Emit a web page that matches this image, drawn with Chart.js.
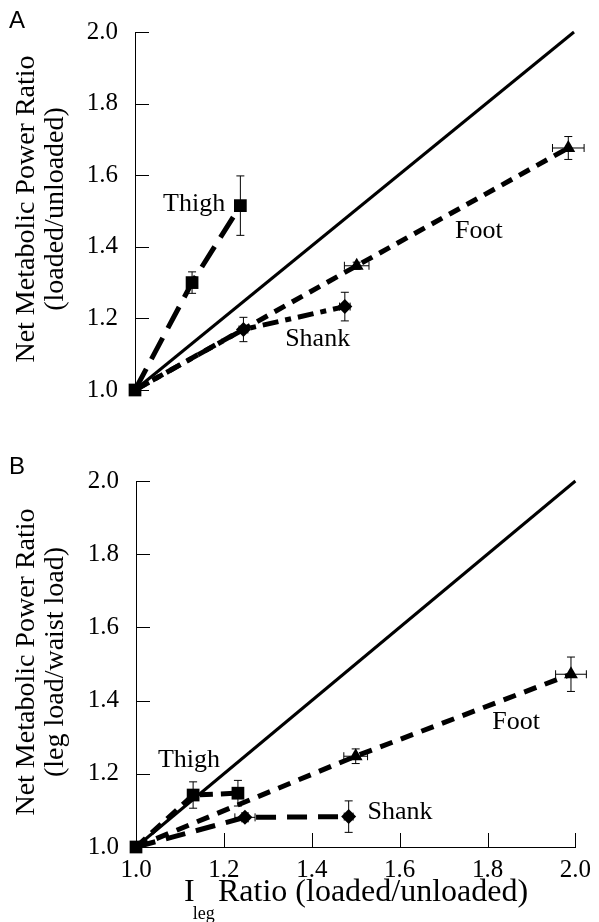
<!DOCTYPE html>
<html>
<head>
<meta charset="utf-8">
<script src="https://cdn.jsdelivr.net/npm/chart.js@4.4.0/dist/chart.umd.min.js"></script>
<style>
  body { margin: 0; background: #fff; }
  #wrap { position: relative; width: 599px; height: 922px; }
  canvas { position: absolute; left: 0; }
  #chartA { top: 0; }
  #chartB { top: 430px; }
</style>
</head>
<body>
<div id="wrap">
  <canvas id="chartA" width="599" height="430"></canvas>
  <canvas id="chartB" width="599" height="492"></canvas>
</div>
<script>
// ticks on both axes
const tickValues = [1.0, 1.2, 1.4, 1.6, 1.8, 2.0];
// line of identity
const identityX = [1.0, 2.0];
const identityY = [1.0, 2.0];

// A: loaded / unloaded
const thighAX = [1.0, 1.13, 1.24];
const thighAY = [1.0, 1.30, 1.515];
const thighAXErr = [0, 0, 0];
const thighAYErr = [0, 0.03, 0.083];

const shankAX = [1.0, 1.247, 1.478];
const shankAY = [1.0, 1.169, 1.233];
const shankAXErr = [0, 0.01, 0.012];
const shankAYErr = [0, 0.034, 0.04];

const footAX = [1.0, 1.505, 1.987];
const footAY = [1.0, 1.347, 1.676];
const footAXErr = [0, 0.028, 0.036];
const footAYErr = [0, 0.01, 0.032];

// B: leg load / waist load
const thighBX = [1.0, 1.13, 1.232];
const thighBY = [1.0, 1.142, 1.147];
const thighBXErr = [0, 0, 0.01];
const thighBYErr = [0, 0.036, 0.035];

const shankBX = [1.0, 1.248, 1.484];
const shankBY = [1.0, 1.081, 1.083];
const shankBXErr = [0, 0.023, 0.01];
const shankBYErr = [0, 0.012, 0.043];

const footBX = [1.0, 1.50, 1.99];
const footBY = [1.0, 1.248, 1.472];
const footBXErr = [0, 0.027, 0.035];
const footBYErr = [0, 0.02, 0.047];

const SERIF = '"Liberation Serif", "Times New Roman", serif';

function series(xs, ys, xErr, yErr, style, radius, dash, showFirst) {
    return {
        data: xs.map((x, i) => ({ x: x, y: ys[i], xErr: xErr[i], yErr: yErr[i] })),
        showLine: true,
        borderColor: '#000',
        backgroundColor: '#000',
        borderWidth: 5,
        borderDash: dash,
        borderCapStyle: 'butt',
        pointStyle: style,
        pointRadius: xs.map((x, i) => (i === 0 && !showFirst) ? 0 : radius),
        pointBorderWidth: 0,
        clip: false
    };
}

function identity() {
    return {
        data: identityX.map((x, i) => ({ x: x, y: identityY[i] })),
        showLine: true,
        borderColor: '#000',
        borderWidth: 3,
        pointRadius: 0,
        clip: false
    };
}

// inward ticks, error bars and all the extra text
const decor = {
    id: 'decor',
    afterDatasetsDraw(chart, args, opts) {
        const { ctx, chartArea } = chart;
        const xs = chart.scales.x, ys = chart.scales.y;
        ctx.save();
        ctx.strokeStyle = '#000';
        ctx.lineWidth = 1;

        tickValues.forEach(v => {
            const py = Math.round(ys.getPixelForValue(v)) + 0.5;
            ctx.beginPath();
            ctx.moveTo(chartArea.left, py);
            ctx.lineTo(chartArea.left + 14, py);
            ctx.stroke();
        });
        if (opts.xTicks) {
            tickValues.slice(1).forEach(v => {
                const px = Math.round(xs.getPixelForValue(v)) + 0.5;
                ctx.beginPath();
                ctx.moveTo(px, chartArea.bottom);
                ctx.lineTo(px, chartArea.bottom - 14);
                ctx.stroke();
            });
        }

        // error bars
        chart.data.datasets.forEach(ds => {
            ds.data.forEach(p => {
                const px = xs.getPixelForValue(p.x);
                const py = ys.getPixelForValue(p.y);
                if (p.yErr) {
                    const t = ys.getPixelForValue(p.y + p.yErr);
                    const b = ys.getPixelForValue(p.y - p.yErr);
                    ctx.beginPath();
                    ctx.moveTo(px, t); ctx.lineTo(px, b);
                    ctx.moveTo(px - 4, t); ctx.lineTo(px + 4, t);
                    ctx.moveTo(px - 4, b); ctx.lineTo(px + 4, b);
                    ctx.stroke();
                }
                if (p.xErr) {
                    const l = xs.getPixelForValue(p.x - p.xErr);
                    const r = xs.getPixelForValue(p.x + p.xErr);
                    ctx.beginPath();
                    ctx.moveTo(l, py); ctx.lineTo(r, py);
                    ctx.moveTo(l, py - 4); ctx.lineTo(l, py + 4);
                    ctx.moveTo(r, py - 4); ctx.lineTo(r, py + 4);
                    ctx.stroke();
                }
            });
        });

        ctx.fillStyle = '#000';
        // panel letter
        ctx.font = '24px "Liberation Sans", Arial, sans-serif';
        ctx.textAlign = 'left';
        ctx.textBaseline = 'middle';
        ctx.fillText(opts.letter.text, opts.letter.x, opts.letter.y);

        // series names
        ctx.font = '26px ' + SERIF;
        opts.names.forEach(n => {
            ctx.fillText(n.text, xs.getPixelForValue(n.x), ys.getPixelForValue(n.y));
        });

        // y title, two lines centred on the plot
        const midY = (chartArea.top + chartArea.bottom) / 2 - 2;
        ctx.font = '28px ' + SERIF;
        ctx.textAlign = 'center';
        opts.yTitle.forEach((t, i) => {
            ctx.save();
            ctx.translate(i === 0 ? 27 : 56, midY);
            ctx.rotate(-Math.PI / 2);
            ctx.fillText(t, 0, 0);
            ctx.restore();
        });

        // x title with subscript
        if (opts.xTitle) {
            const bx = opts.xTitle.x, by = opts.xTitle.y;
            ctx.textAlign = 'left';
            ctx.font = '32px ' + SERIF;
            ctx.fillText('I', bx, by);
            const iw = ctx.measureText('I').width;
            ctx.font = '18px ' + SERIF;
            ctx.fillText('leg', bx + iw - 2, by + 21);
            ctx.font = '32px ' + SERIF;
            ctx.fillText('Ratio (loaded/unloaded)', bx + 34, by);
        }
        ctx.restore();
    }
};

function makeOptions(pad, yWidth, xOpts, decorOpts) {
    return {
        responsive: false,
        animation: false,
        layout: { padding: pad },
        plugins: {
            legend: { display: false },
            tooltip: { enabled: false },
            decor: decorOpts
        },
        scales: {
            x: Object.assign({
                type: 'linear',
                min: 1.0,
                max: 2.0,
                afterBuildTicks: s => { s.ticks = tickValues.map(v => ({ value: v })); },
                grid: { display: false, drawTicks: false },
                border: { display: true, color: '#000', width: 1 },
                ticks: {
                    color: '#000',
                    padding: 8,
                    font: { family: SERIF, size: 25 },
                    maxRotation: 0,
                    callback: v => v.toFixed(1)
                }
            }, xOpts),
            y: {
                type: 'linear',
                min: 1.0,
                max: 2.0,
                afterBuildTicks: s => { s.ticks = tickValues.map(v => ({ value: v })); },
                afterFit: s => { s.width = yWidth; },
                grid: { display: false, drawTicks: false },
                border: { display: true, color: '#000', width: 1 },
                ticks: {
                    color: '#000',
                    padding: 17,
                    font: { family: SERIF, size: 25 },
                    callback: v => v.toFixed(1)
                }
            }
        }
    };
}

new Chart(document.getElementById('chartA'), {
    type: 'scatter',
    data: {
        datasets: [
            series(thighAX, thighAY, thighAXErr, thighAYErr, 'rect', 9, [24, 11], true),
            series(footAX, footAY, footAXErr, footAYErr, 'triangle', 8, [12, 8], false),
            series(shankAX, shankAY, shankAXErr, shankAYErr, 'rectRot', 7.5, [16, 7, 6, 7], false),
            identity()
        ]
    },
    options: makeOptions(
        { left: 0, right: 25, top: 25, bottom: 40 },
        135,
        { display: false },
        {
            letter: { text: 'A', x: 9, y: 21 },
            names: [
                { text: 'Thigh', x: 1.064, y: 1.52 },
                { text: 'Foot', x: 1.729, y: 1.444 },
                { text: 'Shank', x: 1.342, y: 1.142 }
            ],
            yTitle: ['Net Metabolic Power Ratio', '(loaded/unloaded)'],
            xTitle: null,
            xTicks: false
        }
    ),
    plugins: [decor]
});

new Chart(document.getElementById('chartB'), {
    type: 'scatter',
    data: {
        datasets: [
            series(thighBX, thighBY, thighBXErr, thighBYErr, 'rect', 9, [13, 8], true),
            series(footBX, footBY, footBXErr, footBYErr, 'triangle', 8, [13, 9], false),
            series(shankBX, shankBY, shankBXErr, shankBYErr, 'rectRot', 7.5, [20, 11], false),
            identity()
        ]
    },
    options: makeOptions(
        { left: 0, right: 23, top: 51, bottom: 0 },
        136,
        { afterFit: s => { s.height = 75; } },
        {
            letter: { text: 'B', x: 9, y: 37 },
            names: [
                { text: 'Thigh', x: 1.05, y: 1.238 },
                { text: 'Foot', x: 1.811, y: 1.342 },
                { text: 'Shank', x: 1.527, y: 1.096 }
            ],
            yTitle: ['Net Metabolic Power Ratio', '(leg load/waist load)'],
            xTitle: { x: 184, y: 463 },
            xTicks: true
        }
    ),
    plugins: [decor]
});
</script>
</body>
</html>
